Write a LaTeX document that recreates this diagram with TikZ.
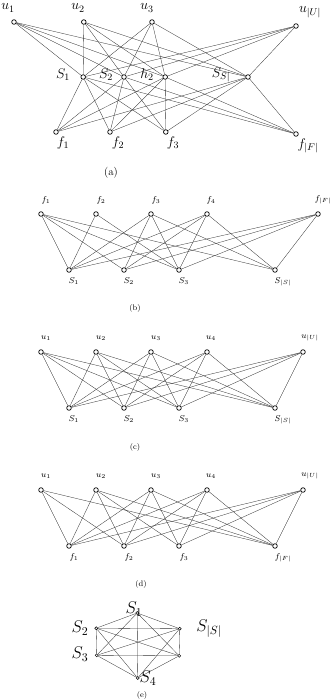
\documentclass[tikz,border=0pt]{standalone}
\usepackage{fix-cm}
\begin{document}
\begin{tikzpicture}[x=1pt,y=-1pt,
  vtx/.style={circle,draw,fill=white,inner sep=0pt,minimum size=4.6pt,line width=0.7pt},
  sdot/.style={circle,draw,fill=white,inner sep=0pt,minimum size=3pt,line width=0.5pt},
  ln/.style={line width=0.32pt,black!80},
  biglab/.style={inner sep=0pt,font=\fontsize{14}{16}\selectfont},
  smlab/.style={inner sep=0pt,font=\fontsize{8.5}{10}\selectfont},
  elab/.style={inner sep=0pt,font=\fontsize{17}{19}\selectfont},
  capa/.style={inner sep=0pt,font=\fontsize{11}{13}\selectfont},
  capb/.style={inner sep=0pt,font=\fontsize{8}{10}\selectfont}]
\useasboundingbox (0,0) rectangle (332,700);

% ---------- (a) ----------
\node[vtx] (au1) at (14,22) {};
\node[vtx] (au2) at (83.8,22) {};
\node[vtx] (au3) at (152,22) {};
\node[vtx] (auU) at (296,26) {};
\node[vtx] (aS1) at (83.2,77) {};
\node[vtx] (aS2) at (124,77) {};
\node[vtx] (ah2) at (165.2,77) {};
\node[vtx] (aSS) at (248,77) {};
\node[vtx] (af1) at (56,132) {};
\node[vtx] (af2) at (110,132) {};
\node[vtx] (af3) at (165.8,132) {};
\node[vtx] (afF) at (296,134) {};
\foreach \a in {au1,au2,au3,auU}
  \foreach \b in {aS1,aS2,ah2,aSS}
    \draw[ln] (\a) -- (\b);
\foreach \a in {aS1,aS2,ah2,aSS}
  \foreach \b in {af1,af2,af3,afF}
    \draw[ln] (\a) -- (\b);
\node[biglab] (lau1) at (8,8) {$u_1$};
\node[biglab] (lau2) at (78,8) {$u_2$};
\node[biglab] (lau3) at (147,8) {$u_3$};
\node[biglab] (lauU) at (310,12) {$u_{|U|}$};
\node[biglab] (laS1) at (63,75) {$S_1$};
\node[biglab] (laS2) at (106,75) {$S_2$};
\node[biglab] (lah2) at (147,75) {$h_2$};
\node[biglab] (laSS) at (221,75) {$S_{S|}$};
\node[biglab] (laf1) at (63,143) {$f_1$};
\node[biglab] (laf2) at (118,143) {$f_2$};
\node[biglab] (laf3) at (173,143) {$f_3$};
\node[biglab] (lafF) at (308,146) {$f_{|F|}$};
\node[capa] (capa) at (111,173) {(a)};

% ---------- (b) ----------
\node[vtx] (bf1) at (41,214) {};
\node[vtx] (bf2) at (96,214) {};
\node[vtx] (bf3) at (151,214) {};
\node[vtx] (bf4) at (207,214) {};
\node[vtx] (bfF) at (318,214) {};
\node[vtx] (bS1) at (69,270) {};
\node[vtx] (bS2) at (124,270) {};
\node[vtx] (bS3) at (179,270) {};
\node[vtx] (bSS) at (275,270) {};
\foreach \a in {bf1,bf3,bf4,bfF}
  \foreach \b in {bS1,bS2,bS3,bSS}
    \draw[ln] (\a) -- (\b);
\draw[ln] (bf2) -- (bS1);
\draw[ln] (bf2) -- (bS3);
\node[smlab] (lbf1) at (46,200) {$f_1$};
\node[smlab] (lbf2) at (101,200) {$f_2$};
\node[smlab] (lbf3) at (156,200) {$f_3$};
\node[smlab] (lbf4) at (211,200) {$f_4$};
\node[smlab] (lbfF) at (323,200) {$f_{|F|}$};
\node[smlab] (lbS1) at (74,281) {$S_1$};
\node[smlab] (lbS2) at (129,281) {$S_2$};
\node[smlab] (lbS3) at (184,281) {$S_3$};
\node[smlab] (lbSS) at (283,282) {$S_{|S|}$};
\node[capb] (capb) at (135,308) {(b)};

% ---------- (c) ----------
\node[vtx] (cu1) at (41,352) {};
\node[vtx] (cu2) at (96,352) {};
\node[vtx] (cu3) at (151,352) {};
\node[vtx] (cu4) at (207,352) {};
\node[vtx] (cuU) at (303,352) {};
\node[vtx] (cS1) at (69,408) {};
\node[vtx] (cS2) at (124,408) {};
\node[vtx] (cS3) at (179,408) {};
\node[vtx] (cSS) at (275,408) {};
\foreach \a in {cu1,cu2,cu3,cu4,cuU}
  \foreach \b in {cS1,cS2,cS3,cSS}
    \draw[ln] (\a) -- (\b);
\node[smlab] (lcu1) at (46,338) {$u_1$};
\node[smlab] (lcu2) at (101,338) {$u_2$};
\node[smlab] (lcu3) at (156,338) {$u_3$};
\node[smlab] (lcu4) at (211,338) {$u_4$};
\node[smlab] (lcuU) at (310,338) {$u_{|U|}$};
\node[smlab] (lcS1) at (74,419) {$S_1$};
\node[smlab] (lcS2) at (129,419) {$S_2$};
\node[smlab] (lcS3) at (184,419) {$S_3$};
\node[smlab] (lcSS) at (283,420) {$S_{|S|}$};
\node[capb] (capc) at (135,447) {(c)};

% ---------- (d) ----------
\node[vtx] (du1) at (41,490) {};
\node[vtx] (du2) at (96,490) {};
\node[vtx] (du3) at (151,490) {};
\node[vtx] (du4) at (207,490) {};
\node[vtx] (duU) at (303,490) {};
\node[vtx] (df1) at (69,546) {};
\node[vtx] (df2) at (124,546) {};
\node[vtx] (df3) at (179,546) {};
\node[vtx] (dfF) at (275,546) {};
\foreach \a in {du2,du3,du4,duU}
  \foreach \b in {df1,df2,df3,dfF}
    \draw[ln] (\a) -- (\b);
\foreach \b in {df1,df2,dfF}
  \draw[ln] (du1) -- (\b);
\node[smlab] (ldu1) at (46,476) {$u_1$};
\node[smlab] (ldu2) at (101,476) {$u_2$};
\node[smlab] (ldu3) at (156,476) {$u_3$};
\node[smlab] (ldu4) at (211,476) {$u_4$};
\node[smlab] (lduU) at (310,476) {$u_{|U|}$};
\node[smlab] (ldf1) at (74,557) {$f_1$};
\node[smlab] (ldf2) at (129,557) {$f_2$};
\node[smlab] (ldf3) at (184,557) {$f_3$};
\node[smlab] (ldfF) at (283,558) {$f_{|F|}$};
\node[capb] (capd) at (141,584) {(d)};

% ---------- (e) ----------
\node[sdot] (e1) at (137.2,613) {};
\node[sdot] (e2) at (96.2,628.2) {};
\node[sdot] (e3) at (96.7,655.3) {};
\node[sdot] (e4) at (137.7,678) {};
\node[sdot] (e5) at (179.7,628.7) {};
\node[sdot] (e6) at (179.2,655.8) {};
\foreach \a/\b in {e1/e2,e1/e3,e1/e4,e1/e5,e1/e6,e2/e3,e2/e4,e2/e5,e2/e6,e3/e4,e3/e5,e3/e6,e4/e5,e4/e6,e5/e6}
  \draw[ln] (\a) -- (\b);
\node[elab] (le1) at (134,609) {$S_1$};
\node[elab] (le2) at (80,628) {$S_2$};
\node[elab] (le3) at (80,654) {$S_3$};
\node[elab] (le4) at (148,678) {$S_4$};
\node[elab] (le5) at (209,629) {$S_{|S|}$};
\node[capb] (cape) at (142,695) {(e)};
\end{tikzpicture}
\end{document}
